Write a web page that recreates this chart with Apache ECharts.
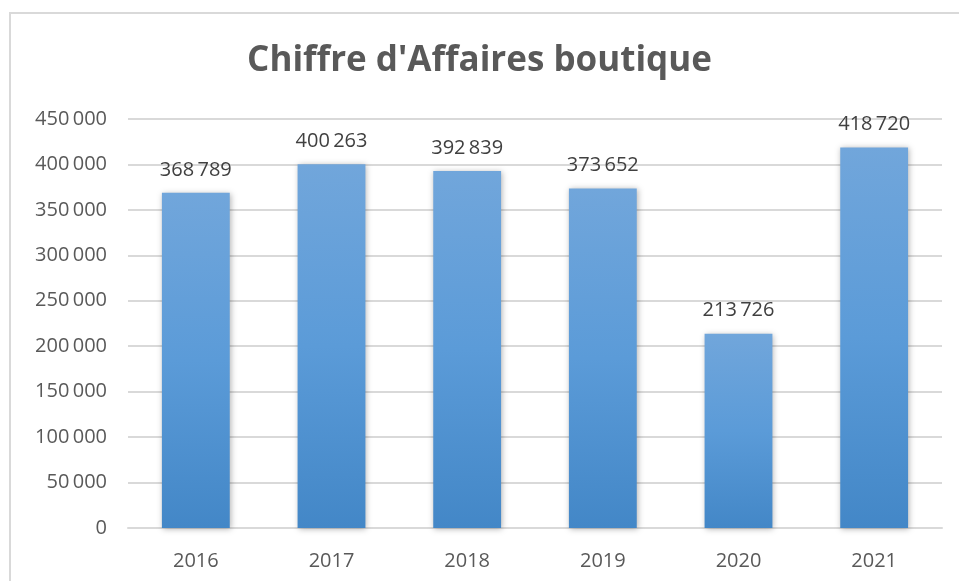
<!DOCTYPE html>
<html><head><meta charset="utf-8">
<script src="https://cdn.jsdelivr.net/npm/echarts@6/dist/echarts.min.js"></script>
<style>html,body{margin:0;padding:0;background:#fff}#c{width:959px;height:581px}</style>
</head><body><div id="c"></div>
<script>
const titleText = "Chiffre d'Affaires boutique";
const categories = ["2016","2017","2018","2019","2020","2021"];
const values = [368789, 400263, 392839, 373652, 213726, 418720];
const yMin = 0, yMax = 450000, yInterval = 50000;

function fmt(v){ return String(v).replace(/\B(?=(\d{3})+(?!\d))/g, '\u2009'); }

const chart = echarts.init(document.getElementById('c'));
chart.setOption({
  animation:false,
  backgroundColor:'#fff',
  graphic:[{type:'rect', shape:{x:10,y:13,width:960,height:590}, style:{fill:'none', stroke:'#d9d9d9', lineWidth:2}, silent:true}],
  title:{text:titleText, left:'center', top:39, textStyle:{fontFamily:'Open Sans', fontWeight:'bold', fontSize:35, color:'#595959'}},
  grid:{left:128, right:17, top:119, bottom:53, containLabel:false},
  xAxis:{type:'category', data:categories,
    axisLine:{show:true, lineStyle:{color:'#d9d9d9', width:2}}, axisTick:{show:false},
    axisLabel:{color:'#595959', fontSize:20, fontFamily:'Open Sans', margin:23}},
  yAxis:{type:'value', min:yMin, max:yMax, interval:yInterval,
    axisLine:{show:false}, axisTick:{show:false},
    splitLine:{lineStyle:{color:'#d9d9d9', width:2}},
    axisLabel:{color:'#595959', fontSize:20, fontFamily:'Open Sans', margin:21, formatter:fmt}},
  series:[{type:'bar', data:values, barWidth:'50%',
    itemStyle:{color:new echarts.graphic.LinearGradient(0,0,0,1,[{offset:0,color:'#71a6db'},{offset:0.5,color:'#5b9bd8'},{offset:1,color:'#4387c7'}]),
      shadowColor:'rgba(0,0,0,0.3)', shadowBlur:6, shadowOffsetX:1, shadowOffsetY:1},
    label:{show:true, position:'top', distance:13, color:'#404040', fontSize:20, fontFamily:'Open Sans', formatter:p=>fmt(p.value)}}]
});
</script></body></html>
